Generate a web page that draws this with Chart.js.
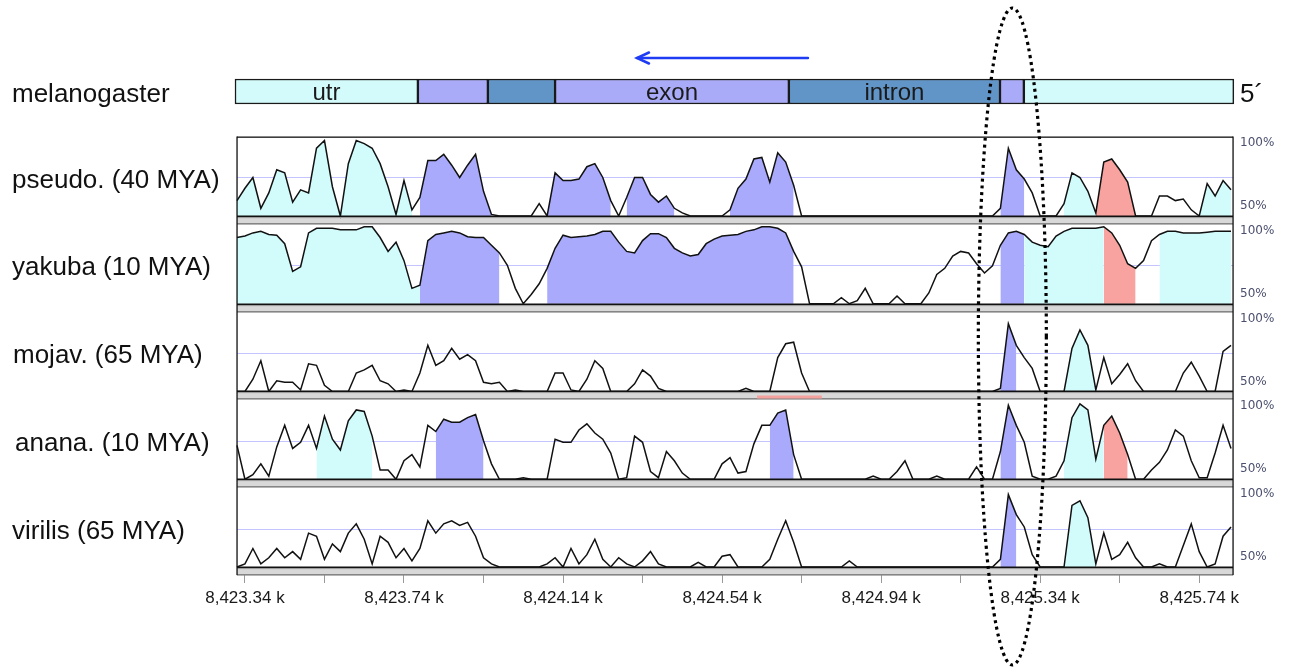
<!DOCTYPE html>
<html><head><meta charset="utf-8">
<script src="https://cdn.jsdelivr.net/npm/chart.js@4.4.0/dist/chart.umd.min.js"></script>
<style>
html,body{margin:0;padding:0;background:#fff;}
#wrap{position:relative;width:1289px;height:667px;overflow:hidden;background:#fff;}
#c{position:absolute;left:0;top:0;}
.lbl{position:absolute;font-family:"Liberation Sans",Arial,sans-serif;font-size:26px;color:#111;white-space:nowrap;transform:translateY(-50%);}
.pct{position:absolute;font-family:"DejaVu Sans",Verdana,sans-serif;font-size:12px;color:#4a4f6e;white-space:nowrap;transform:translateY(-50%);}
.glbl{position:absolute;font-family:"Liberation Sans",Arial,sans-serif;font-size:24px;color:#1a1a1a;white-space:nowrap;transform:translate(-50%,-50%);}
</style></head>
<body><div id="wrap"><canvas id="c" width="1289" height="667"></canvas></div>
<script>
// ---------- data ----------
const positions = [
8423.32,8423.34,8423.36,8423.38,8423.40,8423.42,8423.44,8423.46,8423.48,8423.50,
8423.52,8423.54,8423.56,8423.58,8423.60,8423.62,8423.64,8423.66,8423.68,8423.70,
8423.72,8423.74,8423.76,8423.78,8423.80,8423.82,8423.84,8423.86,8423.88,8423.90,
8423.92,8423.94,8423.96,8423.98,8424.00,8424.02,8424.04,8424.06,8424.08,8424.10,
8424.12,8424.14,8424.16,8424.18,8424.20,8424.22,8424.24,8424.26,8424.28,8424.30,
8424.32,8424.34,8424.36,8424.38,8424.40,8424.42,8424.44,8424.46,8424.48,8424.50,
8424.52,8424.54,8424.56,8424.58,8424.60,8424.62,8424.64,8424.66,8424.68,8424.70,
8424.72,8424.74,8424.76,8424.78,8424.80,8424.82,8424.84,8424.86,8424.88,8424.90,
8424.92,8424.94,8424.96,8424.98,8425.00,8425.02,8425.04,8425.06,8425.08,8425.10,
8425.12,8425.14,8425.16,8425.18,8425.20,8425.22,8425.24,8425.26,8425.28,8425.30,
8425.32,8425.34,8425.36,8425.38,8425.40,8425.42,8425.44,8425.46,8425.48,8425.50,
8425.52,8425.54,8425.56,8425.58,8425.60,8425.62,8425.64,8425.66,8425.68,8425.70,
8425.72,8425.74,8425.76,8425.78,8425.80,8425.82];

const species = ['pseudo. (40 MYA)', 'yakuba (10 MYA)', 'mojav. (65 MYA)', 'anana. (10 MYA)', 'virilis (65 MYA)'];

const pseudo = [
60,68,75,55,65,80,78,59,67,65,
94,99,69,50,84,99,97,94,84,69,
51,73,54,62,86,86,90,83,75,83,
90,66,51,50,50,50,50,50,58,50,
78,73,73,74,82,84,75,60,50,62,
75,75,64,59,63,55,52,50,50,50,
50,50,54,68,74,87,88,72,91,85,
70,50,50,50,50,50,50,50,50,50,
50,50,50,50,50,50,50,50,50,50,
50,50,50,50,50,50,55,94,80,74,
65,50,50,50,58,78,75,66,52,85,
87,80,72,50,50,50,63,63,60,61,
54,50,71,63,73,67];

const yakuba = [
93,94,96,97,95,94.5,89,71,74,96,
99,99,99,98,98,98,100,100,93,84,
90,78,60,62,91,95,96,97,96,93.5,
93,93,88,83,75,60,50,56,63,73,
86,94.5,93,93.5,94,95,97,97,90,84,
83,91,95.5,95.5,93,86,83,81,82,89,
92,94,94.5,95,97,98,100,100,99,96,
84,74,50,50,50,50,54,50,52,60,
50,50,50,55,50,50,50,57,69,73,
81,84,83,76,70,74.7,88,96,97,95,
90,88,87,94,97,99,99,99,99,100,
96,88,76,73,78,91,95,97,97,96,
96,96,96.5,97,97,97];

const mojav = [
50,50,58,70,50,57,56,56,51,68,
67,54,50,50,50,62,64,67,57,55,
50,51,50,62,80,67,70,78,71,74,
70,56,55,56,50,51,50,50,50,50,
62,62,51,50,58,70,65,50,50,50,
55,64,60,52,50,50,50,50,50,50,
50,50,50,50,52,50,50,50,72,81,
82,62,50,50,50,50,50,50,50,50,
50,50,50,50,50,50,50,50,50,50,
50,50,50,50,50,50,52,94,80,72,
65,50,50,50,50,78,90,80,51,72,
55,61,68,57,50,50,50,50,50,62,
69,60,50,50,76,80];

const anana = [
72,50,53,60,52,71,85,70,74,85,
70,91,76,69,88,95,94,78,56,56,
50,62,66,58,85,81,89,87,87,90,
92,75,60,50,50,50,51,50,50,50,
76,74,74,82,86,80,76,67,50,51,
78,74,55,51,68,62,54,50,50,50,
50,60,64,54,55,73,85,85,93,95,
66,50,50,50,50,50,50,50,50,50,
52,50,50,55,62,50,50,50,52,50,
50,50,50,58,50,50,68,98,85,74,
52,50,50,52,62,90,99,95,63,85,
91,80,66,50,50,56,61,69,82,78,
62,51,51,67,85,70];

const virilis = [
50,52,62,52,56,62,56,60,55,72,
70,55,65,60,72,78,68,52,70,66,
56,62,54,62,80,72,78,80,77,79,
70,56,52,50,50,50,50,50,50,52,
56,50,62,52,58,68,55,50,56,52,
50,54,60,52,50,50,50,50,53,50,
50,57,58,50,50,50,50,55,68,80,
66,50,50,50,50,50,50,54,50,50,
50,50,50,50,50,50,50,50,50,50,
50,50,50,50,50,50,55,97,84,76,
58,50,50,50,50,90,93,82,52,72,
55,58,66,56,50,50,52,50,50,64,
78,60,50,52,70,76];

// coloured (annotated) stretches, kb
const pseudoCyan   = [[8423.32, 8423.768], [8425.397, 8425.478], [8425.742, 8425.83]];
const pseudoPurple = [[8423.775, 8423.956], [8424.107, 8424.263], [8424.308, 8424.371], [8424.391, 8424.421], [8424.552, 8424.728], [8425.239, 8425.309]];
const pseudoRed    = [[8425.490, 8425.573]];
const yakubaCyan   = [[8423.32, 8423.773], [8425.309, 8425.498], [8425.639, 8425.83]];
const yakubaPurple = [[8423.775, 8423.976], [8424.107, 8424.728], [8425.239, 8425.309]];
const yakubaRed    = [[8425.498, 8425.578]];
const mojavCyan    = [[8425.410, 8425.470]];
const mojavPurple  = [[8425.239, 8425.284]];
const mojavRed     = [];
const ananaCyan    = [[8423.521, 8423.561], [8423.586, 8423.667], [8425.397, 8425.495]];
const ananaPurple  = [[8423.815, 8423.858], [8423.883, 8423.949], [8424.653, 8424.728], [8425.239, 8425.284]];
const ananaRed     = [[8425.495, 8425.553]];
const virilisCyan  = [[8425.410, 8425.470]];
const virilisPurple= [[8425.239, 8425.289]];
const virilisRed   = [];

// gene structure (melanogaster)
const geneStart = [8423.315, 8423.775, 8423.951, 8424.120, 8424.708, 8425.239, 8425.299];
const geneEnd   = [8423.775, 8423.951, 8424.120, 8424.708, 8425.239, 8425.299, 8425.827];
const geneType  = ['utr', 'exon', 'intron', 'exon', 'intron', 'exon', 'utr'];
const geneLabel = ['utr', '', '', 'exon', 'intron', '', ''];

const mojavMarker = [8424.628, 8424.791];

const tickValues = [8423.34, 8423.54, 8423.74, 8423.94, 8424.14, 8424.34, 8424.54, 8424.74, 8424.94, 8425.14, 8425.34, 8425.54, 8425.74];
const tickLabels = ['8,423.34 k', '', '8,423.74 k', '', '8,424.14 k', '', '8,424.54 k', '', '8,424.94 k', '', '8,425.34 k', '', '8,425.74 k'];

// ---------- layout / style ----------
const CANVAS_H = 667;
const PANEL_BASELINES = [216, 303.75, 391.5, 479.25, 567];
const PX_PER_PCT = 77 / 50;
const AXIS_Y = 575;
const GENE_ROW_Y = 91.5;
const FRAME_TOP = 137;
const X_MIN = 8423.315, X_MAX = 8425.830;
const FRAME_LEFT_KB = 8423.32, FRAME_RIGHT_KB = 8425.825;
const ARROW_HEAD_KB = 8424.326, ARROW_TAIL_KB = 8424.756, ARROW_Y = 58;
const ELLIPSE_CX_KB = 8425.270, ELLIPSE_CY = 336.5, ELLIPSE_RX = 34, ELLIPSE_RY = 328.5;

const FILL = {cyan: '#d2fbfb', purple: '#aaaafc', red: '#f8a39f'};
const GENE_COLOR = {utr: '#d4fbfb', exon: '#aaabf8', intron: '#6194c7'};

const panels = [
  {values: pseudo,  regions: {cyan: pseudoCyan,  purple: pseudoPurple,  red: pseudoRed}},
  {values: yakuba,  regions: {cyan: yakubaCyan,  purple: yakubaPurple,  red: yakubaRed}},
  {values: mojav,   regions: {cyan: mojavCyan,   purple: mojavPurple,   red: mojavRed}},
  {values: anana,   regions: {cyan: ananaCyan,   purple: ananaPurple,   red: ananaRed}},
  {values: virilis, regions: {cyan: virilisCyan, purple: virilisPurple, red: virilisRed}}
];

const datasets = [];
const scales = {
  x: {
    type: 'linear', min: X_MIN, max: X_MAX, offset: false,
    position: {y: AXIS_Y},
    grid: {drawOnChartArea: false, drawTicks: true, tickLength: 8, color: '#9a9a9a', offset: false},
    border: {display: false},
    afterBuildTicks: s => { s.ticks = tickValues.map(v => ({value: v})); },
    ticks: {autoSkip: false, maxRotation: 0, minRotation: 0, padding: 5, color: '#1a1a1a',
      font: {family: '"Liberation Sans", Arial, sans-serif', size: 17},
      callback: (v, i) => tickLabels[i]}
  },
  y: {type: 'linear', min: 0, max: CANVAS_H, reverse: true, display: false, offset: false}
};

panels.forEach((p, k) => {
  const id = 'p' + k;
  const max = 50 + PANEL_BASELINES[k] / PX_PER_PCT;
  scales[id] = {type: 'linear', display: false, offset: false, min: max - CANVAS_H / PX_PER_PCT, max: max};
  const segColor = positions.slice(0, -1).map((x, i) => {
    const m = (x + positions[i + 1]) / 2;
    for (const c of Object.keys(p.regions)) {
      for (const [s, e] of p.regions[c]) if (m >= s && m <= e) return c;
    }
    return null;
  });
  for (const c of Object.keys(p.regions)) {
    if (!p.regions[c].length) continue;
    datasets.push({
      type: 'line', xAxisID: 'x', yAxisID: id, order: 1,
      data: positions.map((x, i) => ({x: x, y: (segColor[i - 1] === c || segColor[i] === c) ? p.values[i] : null})),
      fill: {value: 50}, backgroundColor: FILL[c], borderColor: 'rgba(0,0,0,0)', borderWidth: 0,
      pointRadius: 0, spanGaps: false, tension: 0
    });
  }
  datasets.push({
    type: 'line', xAxisID: 'x', yAxisID: id, order: 0,
    data: positions.map((x, i) => ({x: x, y: p.values[i]})),
    borderColor: '#111', borderWidth: 1.5, pointRadius: 0, fill: false, tension: 0
  });
});

datasets.push({
  type: 'bar', indexAxis: 'y', xAxisID: 'x', yAxisID: 'y', order: 2, clip: false,
  data: geneStart.map((s, i) => ({x: [s, geneEnd[i]], y: GENE_ROW_Y})),
  backgroundColor: geneType.map(t => GENE_COLOR[t]),
  borderColor: '#1a1a1a', borderWidth: 1.5, borderSkipped: false,
  barThickness: 25, grouped: false
});

const decor = {
  id: 'decor',
  beforeDatasetsDraw(chart) {
    const ctx = chart.ctx, x = chart.scales.x;
    const L = x.getPixelForValue(FRAME_LEFT_KB), R = x.getPixelForValue(FRAME_RIGHT_KB);
    ctx.save();
    ctx.strokeStyle = '#c4c4ff'; ctx.lineWidth = 1.2;
    panels.forEach((p, k) => {
      const ym = Math.round(chart.scales['p' + k].getPixelForValue(75)) + 0.5;
      ctx.beginPath(); ctx.moveTo(L, ym); ctx.lineTo(R, ym); ctx.stroke();
    });
    ctx.restore();
  },
  afterDatasetsDraw(chart) {
    const ctx = chart.ctx, x = chart.scales.x;
    const L = x.getPixelForValue(FRAME_LEFT_KB), R = x.getPixelForValue(FRAME_RIGHT_KB);
    ctx.save();
    let lastBottom = 0;
    panels.forEach((p, k) => {
      const b = Math.round(chart.scales['p' + k].getPixelForValue(50));
      ctx.fillStyle = '#111'; ctx.fillRect(L, b - 0.5, R - L, 1.5);
      ctx.fillStyle = '#9c9c9c'; ctx.fillRect(L, b + 1, R - L, 1.5);
      ctx.fillStyle = '#d8d8d8'; ctx.fillRect(L, b + 2.5, R - L, 4.5);
      ctx.fillStyle = '#858585'; ctx.fillRect(L, b + 7, R - L, 1.6);
      lastBottom = b + 8.6;
    });
    // mojav marker
    const b3 = chart.scales.p2.getPixelForValue(50);
    ctx.fillStyle = '#f5a19d';
    ctx.fillRect(x.getPixelForValue(mojavMarker[0]), b3 + 4, x.getPixelForValue(mojavMarker[1]) - x.getPixelForValue(mojavMarker[0]), 3);
    // frame
    ctx.fillStyle = '#111';
    ctx.fillRect(L, FRAME_TOP - 0.5, R - L, 1.3);
    ctx.fillRect(L - 0.6, FRAME_TOP - 0.5, 1.3, lastBottom - FRAME_TOP);
    ctx.fillRect(R - 0.6, FRAME_TOP - 0.5, 1.3, lastBottom - FRAME_TOP);
    ctx.restore();
  },
  afterDraw(chart) {
    const ctx = chart.ctx, x = chart.scales.x;
    ctx.save();
    // arrow
    const xh = x.getPixelForValue(ARROW_HEAD_KB), xt = x.getPixelForValue(ARROW_TAIL_KB);
    ctx.strokeStyle = '#1f3cf5'; ctx.lineWidth = 2.5; ctx.lineCap = 'round';
    ctx.beginPath(); ctx.moveTo(xt, ARROW_Y); ctx.lineTo(xh, ARROW_Y); ctx.stroke();
    ctx.beginPath(); ctx.moveTo(xh + 12, ARROW_Y - 5.5); ctx.lineTo(xh, ARROW_Y); ctx.lineTo(xh + 12, ARROW_Y + 5.5); ctx.stroke();
    // dotted ellipse
    ctx.strokeStyle = '#000'; ctx.lineWidth = 3.2; ctx.lineCap = 'butt';
    ctx.setLineDash([3, 3.8]);
    ctx.beginPath();
    ctx.ellipse(x.getPixelForValue(ELLIPSE_CX_KB), ELLIPSE_CY, ELLIPSE_RX, ELLIPSE_RY, 0, 0, Math.PI * 2);
    ctx.stroke();
    ctx.restore();
  }
};

const chart = new Chart(document.getElementById('c'), {
  type: 'line',
  data: {datasets: datasets},
  options: {
    responsive: false, animation: false, events: [],
    layout: {padding: {left: 235, right: 54, top: 0, bottom: 0}},
    plugins: {legend: {display: false}, tooltip: {enabled: false}, title: {display: false}},
    scales: scales
  },
  plugins: [decor]
});

// ---------- text ----------
const wrap = document.getElementById('wrap');
function addText(cls, text, left, top) {
  const d = document.createElement('div');
  d.className = cls; d.textContent = text;
  d.style.left = left + 'px'; d.style.top = top + 'px';
  wrap.appendChild(d);
  return d;
}
addText('lbl', 'melanogaster', 12, GENE_ROW_Y + 1);
addText('lbl', '5\u00b4', 1240, GENE_ROW_Y + 1);
const leftX = [12, 12, 13, 15, 12];
species.forEach((s, k) => {
  const sc = chart.scales['p' + k];
  addText('lbl', s, leftX[k], sc.getPixelForValue(75) + 1);
  addText('pct', '100%', 1240, sc.getPixelForValue(100) + 3);
  addText('pct', '50%', 1240, sc.getPixelForValue(50) - 11);
});
geneLabel.forEach((t, i) => {
  if (!t) return;
  addText('glbl', t, chart.scales.x.getPixelForValue((geneStart[i] + geneEnd[i]) / 2), GENE_ROW_Y);
});
</script></body></html>
